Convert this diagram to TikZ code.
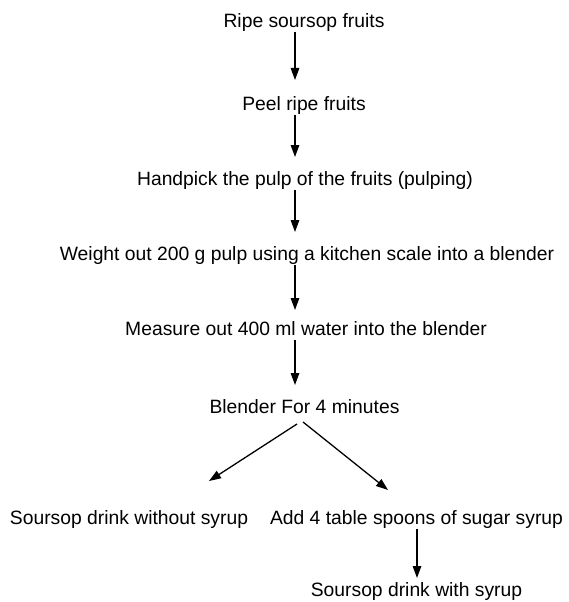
\documentclass[tikz,border=0pt]{standalone}
\usepackage{fontspec}
\setmainfont{Liberation Sans}
\usetikzlibrary{arrows.meta,calc}
\begin{document}
\begin{tikzpicture}[x=1pt,y=-1pt,
  lbl/.style={anchor=base,inner xsep=0pt,inner ysep=0.5pt,outer sep=0pt,
    text height=14pt,text depth=4pt,font=\fontsize{19.3}{22}\selectfont},
  arr/.style={line width=1.3pt,-{Triangle[length=12pt,width=8.5pt]},shorten >=13.5pt}]
\useasboundingbox[fill=white] (0,0) rectangle (568,602);
\coordinate (col) at (295,0);
\coordinate (col2) at (417,0);
\node[lbl] (ripe)  at (304,28)   {Ripe soursop fruits};
\node[lbl] (peel)  at (304,110)  {Peel ripe fruits};
\node[lbl] (hand)  at (305,185)  {Handpick the pulp of the fruits (pulping)};
\node[lbl] (weigh) at (307,260)  {Weight out 200 g pulp using a kitchen scale into a blender};
\node[lbl] (meas)  at (306,335)  {Measure out 400 ml water into the blender};
\node[lbl] (blend) at (304.5,413){Blender For 4 minutes};
\node[lbl] (nosyr) at (129,524)  {Soursop drink without syrup};
\node[lbl] (add)   at (416.5,524){Add 4 table spoons of sugar syrup};
\node[lbl] (syr)   at (416.5,596){Soursop drink with syrup};
\draw[arr,shorten >=15.5pt] (ripe.south -| col) -- (peel.north -| col);
\draw[arr] (peel.south -| col) -- (hand.north -| col);
\draw[arr] (hand.south -| col) -- (weigh.north -| col);
\draw[arr,shorten >=10.5pt] (weigh.south -| col) -- (meas.north -| col);
\draw[arr] (meas.south -| col) -- (blend.north -| col);
\draw[arr,shorten >=0pt] ($(blend.south)+(-7.5,6.5)$) -- ($(nosyr.north)+(80,-28.5)$);
\draw[arr,shorten >=0pt] ($(blend.south)+(-1.5,4.5)$) -- ($(add.north)+(-28.5,-19.5)$);
\draw[arr,shorten >=3.5pt] (add.south -| col2) -- (syr.north -| col2);
\end{tikzpicture}
\end{document}
